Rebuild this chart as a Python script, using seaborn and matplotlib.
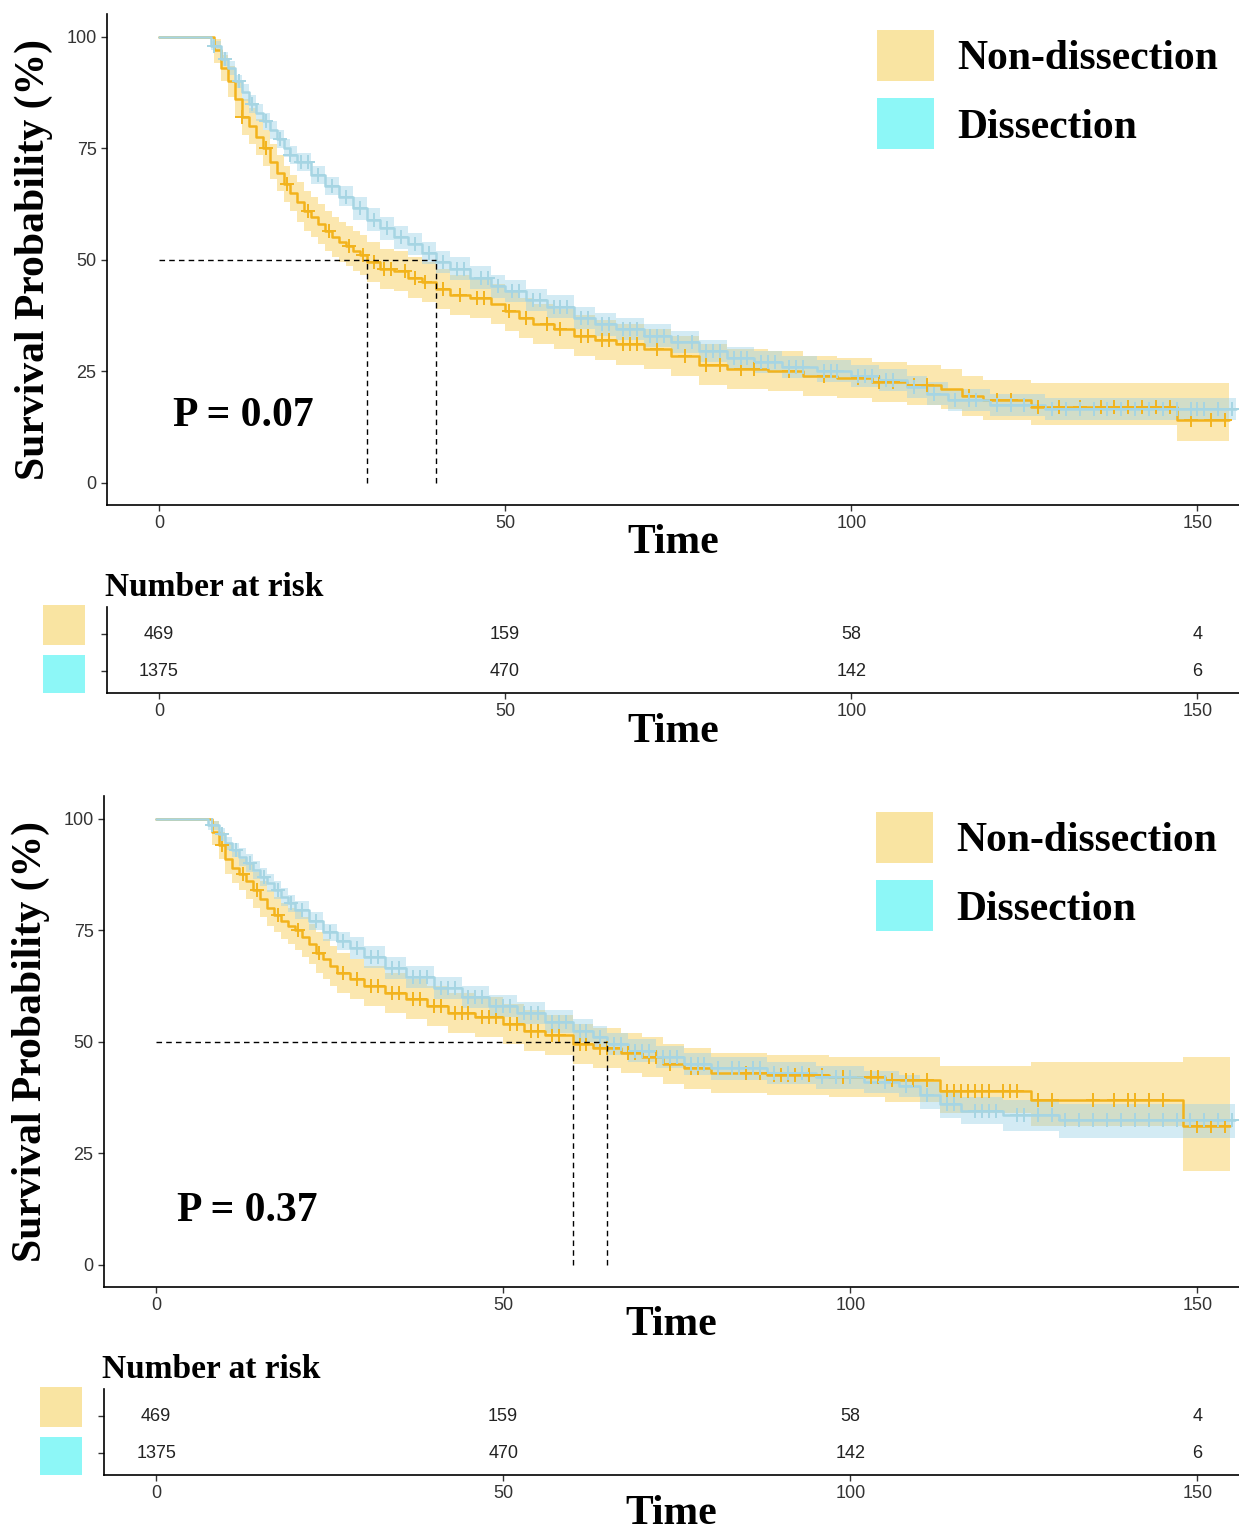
import numpy as np
import pandas as pd
import matplotlib
matplotlib.use("Agg")
import matplotlib.pyplot as plt
import seaborn as sns
from matplotlib.patches import Patch, Rectangle

# ---------------- data ----------------
groups = ["Non-dissection", "Dissection"]
risk_times = [0, 50, 100, 150]
risk_no = [469, 159, 58, 4]
risk_yes = [1375, 470, 142, 6]
p_values = ["P = 0.07", "P = 0.37"]

# panel 1, non-dissection
t_no1 = [0, 8, 9, 10, 11, 12, 13, 14, 15, 16, 17, 18, 19, 20, 21, 22, 23, 24, 25, 26, 27, 28, 29, 30,
         32, 34, 36, 38, 40, 42, 45, 48, 50, 52, 54, 57, 60, 63, 66, 70, 74, 78, 82, 88, 93, 98, 103,
         108, 113, 116, 119, 126, 147]
s_no1 = [100, 97, 93, 90, 86, 82, 80, 77.5, 75, 72, 69.5, 67, 65, 63, 61, 59.5, 58, 56.5, 55, 54, 53, 52,
         51, 49.5, 48, 47.5, 46, 45, 43.5, 42, 41.5, 40, 38.5, 37, 35.5, 34.5, 33, 32, 31, 30, 28.5, 26.5,
         25.5, 25, 24, 23.5, 22.5, 22, 21, 19.5, 18.5, 17, 14]
lo_no1 = [100, 94, 90, 86.5, 82, 78, 76, 73.5, 71, 68, 65.5, 63, 61, 58.5, 56.5, 55, 53.5, 52, 50.5, 49.5,
          48.5, 47.5, 46.5, 45, 43.5, 43, 41.5, 40.5, 39, 37.5, 37, 35.5, 34, 32.5, 31, 30, 28.5, 27.5,
          26.5, 25.5, 24, 22, 21, 20.5, 19.5, 19, 18, 17.5, 16.5, 15, 14, 13, 9.4]
hi_no1 = [100, 99.5, 96, 93.5, 90, 86, 84, 81.5, 79, 76, 73.5, 71, 69, 67.5, 65.5, 64, 62.5, 61, 59.5, 58.5,
          57.5, 56.5, 55.5, 54, 52.5, 52, 50.5, 49.5, 48, 46.5, 46, 44.5, 43, 41.5, 40, 39, 37.5, 36.5,
          35.5, 34.5, 33, 31, 30, 29.5, 28.5, 28, 27, 26.5, 25.5, 24, 23, 22.4, 22.4]
end_no1 = 154.5
cens_no1 = [12, 15.5, 18.5, 21.5, 24.5, 27.5, 29.5, 31, 32.5, 33.5, 35.5, 37, 38.5, 41, 43.5, 46, 47,
            50.5, 53, 56, 58, 61, 62, 64, 65, 67, 68, 69, 72, 76, 79, 81, 84, 86, 91, 96, 101, 104, 106,
            109, 111, 117, 121, 123, 127, 130, 133, 136, 138, 140, 142, 144, 146, 149, 152, 154]

# panel 1, dissection
t_yes1 = [0, 7.5, 9, 10, 11, 12, 13, 14, 15, 16, 17, 18, 19, 20, 22, 24, 26, 28, 30, 32, 34, 36, 38, 40,
          42, 45, 48, 50, 53, 56, 60, 63, 66, 70, 74, 78, 82, 86, 90, 95, 100, 104, 108, 111, 114, 120, 128]
s_yes1 = [100, 98, 95, 93, 90, 87.5, 85, 83, 81, 79, 77, 75, 73.5, 72, 69, 66.5, 64, 61.5, 59, 57, 55,
          53.5, 51.5, 49.5, 48, 46, 44, 43, 41, 39.5, 37, 35.5, 34.5, 33, 31.5, 29.5, 28, 27, 26, 25, 24,
          23, 21.5, 20, 18.5, 17.5, 16.5]
lo_yes1 = [100, 97, 93.5, 91.5, 88.5, 85.5, 83, 81, 79, 77, 75, 73, 71.5, 70, 67, 64.5, 62, 59, 56.5, 54.5,
           52.5, 51, 49, 47, 45.5, 43.5, 41.5, 40.5, 38.5, 37, 34.5, 33, 32, 30.5, 29, 27, 25.5, 24.5, 23.5,
           22.5, 21.5, 20.5, 19, 17.5, 16, 15, 14]
hi_yes1 = [100, 99, 96.5, 94.5, 91.5, 89.5, 87, 85, 83, 81, 79, 77, 75.5, 74, 71, 68.5, 66.5, 64, 61.5,
           59.5, 57.5, 56, 54, 52, 50.5, 48.5, 46.5, 45.5, 43.5, 42, 39.5, 38, 37, 35.5, 34, 32, 30.5, 29.5,
           28.5, 27.5, 26.5, 25.5, 24, 22.5, 21, 20, 19]
end_yes1 = 155.5
cens_yes1 = [8, 9.5, 11.5, 13.5, 15.5, 17.5, 19, 20.5, 21.5, 23, 25, 27, 29, 31, 33, 35, 37, 39, 41, 43,
             44, 46.5, 47.5, 49, 51, 52, 54, 55, 57, 58, 59, 61, 62, 64, 65, 67, 68, 69, 71, 72, 73, 75,
             77, 79, 80, 81, 83, 84, 85, 87, 88, 89, 91, 92, 93, 96, 97, 98, 101, 102, 103, 105, 106, 109,
             112, 115, 117, 118, 121, 123, 125, 129, 131, 133, 135, 137, 139, 141, 143, 145, 147, 149, 150,
             151, 153, 155]

# panel 2, non-dissection
t_no2 = [0, 8, 9, 10, 11, 12, 13, 14, 15, 16, 17, 18, 19, 20, 21, 22, 23, 24, 25, 26, 28, 30, 33, 36, 39,
         42, 46, 50, 53, 56, 60, 63, 67, 70, 73, 76, 80, 88, 97, 105, 113, 126, 148]
s_no2 = [100, 97, 94, 91, 89, 87.5, 86, 84, 82, 80, 78.5, 77, 76, 75, 73.5, 72, 70, 68.5, 67, 65.5, 64,
         62.5, 61, 59.5, 58, 56.5, 55.5, 54, 52.5, 51.5, 49.5, 48.5, 47.5, 46.5, 45, 44, 43, 42.5, 42,
         41.5, 39, 37, 31]
lo_no2 = [100, 94, 91, 87.5, 85.5, 84, 82, 80, 78, 76, 74.5, 73, 72, 70.5, 69, 67.5, 65.5, 64, 62.5, 61,
          59.5, 58, 56.5, 55, 53.5, 52, 51, 49.5, 48, 47, 45, 44, 43, 42, 40.5, 39.5, 38.5, 38, 37.5, 36.5,
          34, 31, 21]
hi_no2 = [100, 99.5, 97, 94.5, 92.5, 91, 90, 88, 86, 84, 82.5, 81, 80, 79.5, 78, 76.5, 74.5, 73, 71.5, 70,
          68.5, 67, 65.5, 64, 62.5, 61, 60, 58.5, 57, 56, 54, 53, 52, 51, 49.5, 48.5, 47.5, 47, 46.5, 46.5,
          44.5, 45.5, 46.5]
end_no2 = 154.7
cens_no2 = [9.5, 12.5, 14.5, 17.5, 20.5, 23.5, 27, 29, 31, 32, 34, 35, 37, 38, 40, 41, 43, 44, 45, 47, 48,
            49, 51, 52, 54, 55, 57, 58, 61, 62, 64, 65, 66, 68, 69, 71, 72, 74, 77, 78, 85, 87, 89, 90,
            91, 92, 94, 96, 99, 100, 103, 104, 106, 108, 109, 111, 114, 115, 116, 117, 118, 119, 120,
            122, 123, 124, 127, 129, 135, 138, 140, 141, 143, 145, 150, 152, 154]

# panel 2, dissection
t_yes2 = [0, 7.5, 9, 10, 11, 12, 13, 14, 15, 16, 17, 18, 19, 20, 22, 24, 26, 28, 30, 33, 36, 40, 44, 48,
          52, 56, 60, 63, 65, 68, 72, 76, 80, 88, 95, 102, 107, 110, 113, 116, 122, 130]
s_yes2 = [100, 98.5, 96.5, 94.5, 93, 91.5, 90, 88.5, 87, 85.5, 84, 82.5, 81, 79.5, 77, 74.5, 72.5, 71, 69,
          66.5, 64.5, 62, 60, 58, 56.5, 54.5, 52.5, 51, 49.5, 48, 46.5, 45, 44, 43, 42, 41, 40, 38, 36,
          34.5, 33.5, 32.5]
lo_yes2 = [100, 97.5, 95, 93, 91.5, 89.5, 88, 86.5, 85, 83.5, 82, 80.5, 79, 77.5, 75, 72.5, 70.5, 68.5,
           66.5, 64, 62, 59.5, 57.5, 55.5, 54, 52, 50, 48.5, 47, 45.5, 44, 42.5, 41.5, 40.5, 39.5, 38.5,
           37.5, 35, 33, 31.5, 30, 28.5]
hi_yes2 = [100, 99.5, 98, 96, 94.5, 93.5, 92, 90.5, 89, 87.5, 86, 84.5, 83, 81.5, 79, 76.5, 74.5, 73.5,
           71.5, 69, 67, 64.5, 62.5, 60.5, 59, 57, 55, 53.5, 52, 50.5, 49, 47.5, 46.5, 45.5, 44.5, 43.5,
           42.5, 41, 39, 37.5, 37, 36]
end_yes2 = 155.4
cens_yes2 = [8, 9.5, 11.5, 13.5, 15.5, 17.5, 19.5, 21, 23, 25, 27, 29, 31, 32, 34, 35, 37, 38, 39, 41, 42,
             43, 45, 46, 47, 49, 50, 51, 53, 54, 55, 57, 58, 59, 61, 62, 64, 66, 67, 69, 70, 71, 73, 74,
             75, 77, 78, 79, 81, 83, 84, 86, 87, 89, 91, 93, 96, 98, 100, 105, 108, 111, 114, 115, 118, 119,
             120, 121, 124, 125, 127, 129, 131, 133, 135, 137, 139, 141, 143, 145, 147, 149, 151, 153, 155]

# ---------------- style ----------------
line_colors = {"Non-dissection": "#F2B31C", "Dissection": "#A6D5E3"}
band_colors = {"Non-dissection": ("#F9D46E", 0.55), "Dissection": ("#9FD3E8", 0.45)}
key_colors = {"Non-dissection": "#F9E4A2", "Dissection": "#8DF7F7"}
SERIF = "Liberation Serif"
SANS = "Liberation Sans"

sns.set_theme(style="ticks")
plt.rcParams["font.family"] = [SANS, "DejaVu Sans"]
plt.rcParams["text.color"] = "black"
plt.rcParams["axes.labelcolor"] = "black"

W, H = 1239, 1531
fig = plt.figure(figsize=(W / 100, H / 100), dpi=100)


def px_axes(left, top, right, bottom):
    return fig.add_axes([left / W, 1 - bottom / H, (right - left) / W, (bottom - top) / H])


def step_at(t, s, c):
    idx = np.searchsorted(np.asarray(t), np.asarray(c), side="right") - 1
    return np.asarray(s)[idx]


def km_panel(ax, curves, pval, p_xy):
    rows = []
    for g, (t, s, lo, hi, end, cens) in curves.items():
        tt = list(t) + [end]
        col, a = band_colors[g]
        ax.fill_between(tt, list(lo) + [lo[-1]], list(hi) + [hi[-1]], step="post",
                        color=col, alpha=a, linewidth=0)
        rows.append(pd.DataFrame({"time": tt, "surv": list(s) + [s[-1]], "group": g}))
    df = pd.concat(rows, ignore_index=True)
    sns.lineplot(data=df, x="time", y="surv", hue="group", palette=line_colors,
                 drawstyle="steps-post", estimator=None, sort=False, legend=False,
                 linewidth=1.8, ax=ax)
    for g, (t, s, lo, hi, end, cens) in curves.items():
        ax.plot(cens, step_at(t, s, cens), linestyle="none", marker="+", markersize=10,
                markeredgewidth=1.4, color=line_colors[g])

    # median lines
    meds = []
    for g, (t, s, lo, hi, end, cens) in curves.items():
        meds.append(t[int(np.argmax(np.asarray(s) <= 50))])
    ax.plot([0, max(meds)], [50, 50], color="black", linestyle=(0, (4, 3)), linewidth=1)
    for m in meds:
        ax.plot([m, m], [0, 50], color="black", linestyle=(0, (4, 3)), linewidth=1)

    ax.text(p_xy[0], p_xy[1], pval, fontsize=30, fontweight="bold", family=SERIF, va="center")

    ax.set_xlim(-7.5, 156)
    ax.set_ylim(-5, 105)
    ax.set_xticks(risk_times)
    ax.set_yticks([0, 25, 50, 75, 100])
    ax.set_xlabel("Time", fontsize=30, fontweight="bold", family=SERIF, labelpad=-6)
    ax.set_ylabel("Survival Probability (%)", fontsize=30, fontweight="bold", family=SERIF)
    ax.yaxis.set_label_coords(-0.048, 0.5)
    ax.tick_params(labelsize=13, length=4, width=1, colors="#333333", labelcolor="#333333")
    sns.despine(ax=ax)
    for sp in ("left", "bottom"):
        ax.spines[sp].set_color("black")
        ax.spines[sp].set_linewidth(1.2)

    handles = [Patch(facecolor=key_colors[g], edgecolor="none", label=g) for g in groups]
    ax.legend(handles=handles, loc="upper left", bbox_to_anchor=(0.68, 0.968), frameon=False,
              prop=dict(family=SERIF, weight="bold", size=30), handlelength=1.37,
              handleheight=1.5, handletextpad=0.55, labelspacing=0.42, borderpad=0,
              borderaxespad=0)


def risk_panel(ax):
    for row, (g, counts) in enumerate(zip(groups, [risk_no, risk_yes])):
        y = 1 - row
        for t, n in zip(risk_times, counts):
            ax.text(t, y, str(n), ha="center", va="center", fontsize=13, color="#222222")
    ax.set_xlim(-7.5, 156)
    ax.set_ylim(-0.59, 1.73)
    ax.set_xticks(risk_times)
    ax.set_yticks([0, 1])
    ax.set_yticklabels([])
    ax.set_xlabel("Time", fontsize=30, fontweight="bold", family=SERIF, labelpad=-5)
    ax.set_title("Number at risk", loc="left", fontsize=24, fontweight="bold", family=SERIF,
                 pad=8, x=-0.002)
    ax.tick_params(labelsize=13, length=4, width=1, colors="#333333", labelcolor="#333333")
    sns.despine(ax=ax)
    for sp in ("left", "bottom"):
        ax.spines[sp].set_color("black")
        ax.spines[sp].set_linewidth(1.2)
    # coloured keys beside the rows
    for g, (y0, y1) in zip(groups, [(0.558, 1.02), (0.0, 0.442)]):
        ax.add_patch(Rectangle((-0.0565, y0), 0.037, y1 - y0, transform=ax.transAxes,
                               facecolor=key_colors[g], edgecolor="none", clip_on=False))


ax1 = px_axes(107, 14.4, W, 505)
km_panel(ax1, {"Non-dissection": (t_no1, s_no1, lo_no1, hi_no1, end_no1, cens_no1),
               "Dissection": (t_yes1, s_yes1, lo_yes1, hi_yes1, end_yes1, cens_yes1)},
         p_values[0], (2, 15))
r1 = px_axes(107, 607, W, 693)
risk_panel(r1)

ax2 = px_axes(104, 796.4, W, 1287)
km_panel(ax2, {"Non-dissection": (t_no2, s_no2, lo_no2, hi_no2, end_no2, cens_no2),
               "Dissection": (t_yes2, s_yes2, lo_yes2, hi_yes2, end_yes2, cens_yes2)},
         p_values[1], (3, 12))
r2 = px_axes(104, 1389, W, 1475)
risk_panel(r2)

fig.savefig("out.png", dpi=100)
